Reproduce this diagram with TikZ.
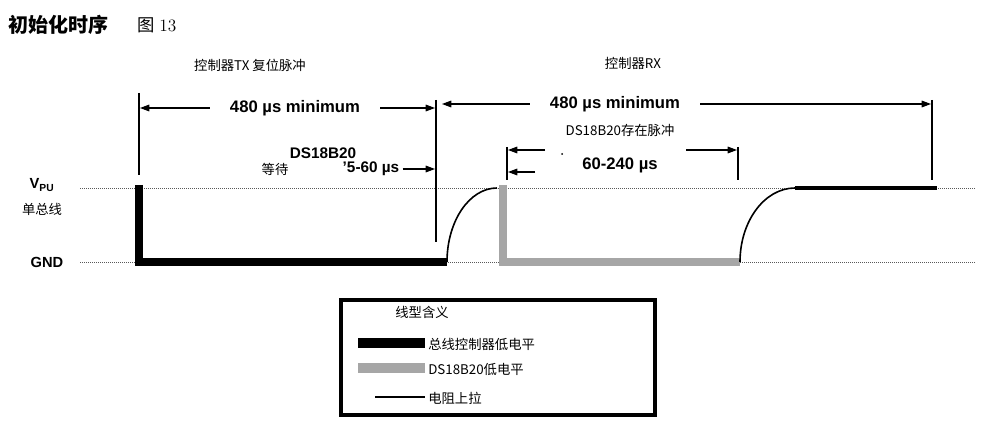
\documentclass[tikz,border=0pt]{standalone}
\usepackage{fontspec}
\setmainfont{Liberation Sans}
\newfontfamily\cjk{Noto Sans CJK SC}
\newfontfamily\lmserif{Latin Modern Roman}
\usetikzlibrary{arrows.meta}
\begin{document}
\begin{tikzpicture}[x=0.75pt,y=-0.75pt,
  dim/.style={-{Triangle[length=7pt,width=5pt]},line width=0.8pt},
  tick/.style={line width=0.8pt},
  lvl/.style={densely dotted,line width=0.5pt,gray!70!black},
  lbl/.style={inner sep=0pt,font=\bfseries\fontsize{12.5}{14}\selectfont},
  cn/.style={inner sep=0pt,font=\cjk\fontsize{10}{12}\selectfont},
  ctl/.style={line width=6pt},
  dsl/.style={line width=6pt,gray!70},
  pull/.style={line width=1.2pt}]
\useasboundingbox (0,0) rectangle (1001,428);
% title
\node[anchor=west,inner sep=0pt,font=\cjk\bfseries\fontsize{15}{17}\selectfont] (title) at (8,25) {初始化时序};
\node[anchor=west,inner sep=0pt,font=\fontsize{13}{15}\selectfont] (fig) at (137,25) {{\cjk 图} \lmserif 13};
\node[cn] (tx) at (250,65) {控制器TX 复位脉冲};
\node[cn] (rx) at (633,63) {控制器RX};
% levels
\coordinate (v0) at (80,188); \coordinate (v1) at (975,188);
\coordinate (g0) at (80,262); \coordinate (g1) at (975,262);
\draw[lvl] (v0) -- (v1);
\draw[lvl] (g0) -- (g1);
\node[inner sep=0pt,font=\bfseries\fontsize{11}{12}\selectfont] (vpu) at (42,185) {V\textsubscript{PU}};
\node[cn] (bus) at (42,209) {单总线};
\node[inner sep=0pt,font=\bfseries\fontsize{11}{12}\selectfont] (gnd) at (47,262) {GND};
% ticks
\coordinate (t1a) at (139,93); \coordinate (t1b) at (139,175);
\coordinate (t2a) at (436,100); \coordinate (t2b) at (436,242);
\coordinate (t3a) at (932,100); \coordinate (t3b) at (932,180);
\draw[tick] (t1a) -- (t1b); \draw[tick] (t2a) -- (t2b); \draw[tick] (t3a) -- (t3b);
% 480 arrows
\node[lbl] (m1) at (295,108) {480 µs minimum};
\draw[dim] (m1.west) ++(-20,0) -- (140,108);
\draw[dim] (m1.east) ++(20,0) -- (435,108);
\node[lbl] (m2) at (615,104) {480 µs minimum};
\draw[dim] (m2.west) ++(-20,0) -- (442,104);
\draw[dim] (m2.east) ++(20,0) -- (931,104);
% wait
\node[lbl,font=\bfseries\fontsize{11.5}{13}\selectfont] (ds) at (323,153) {DS18B20};
\node[cn] (wait) at (275,169) {等待};
\node[lbl,font=\bfseries\fontsize{11.5}{13}\selectfont] (w560) at (371,169) {'5-60 µs};
\draw[dim] (w560.east) ++(3,0) -- (435,169);
% presence
\node[cn] (pres) at (620,130) {DS18B20存在脉冲};
\coordinate (p1a) at (507,147); \coordinate (p1b) at (507,180);
\coordinate (p2a) at (738,147); \coordinate (p2b) at (738,180);
\draw[tick] (p1a) -- (p1b); \draw[tick] (p2a) -- (p2b);
\node[lbl] (p240) at (620,165) {60-240 µs};
\draw[dim] (545,150) -- (508,150);
\draw[dim] (535,172) -- (508,172);
\draw[dim] (686,150) -- (737,150);
\fill (562,154) circle (1);
% waveform
\draw[ctl] (139,185) -- (139,262) -- (447,262);
\draw[pull] (447,262) arc[start angle=180,end angle=270,x radius=50,y radius=74];
\draw[dsl] (503,185) -- (503,262) -- (740,262);
\draw[pull] (740,262) arc[start angle=180,end angle=270,x radius=55,y radius=74];
\draw[line width=2.5pt] (795,188) -- (937,188);
% legend
\draw[line width=2.5pt] (341,300) rectangle (655,415);
\node[cn] (lt) at (422,312) {线型含义};
\draw[line width=7pt] (358,343) -- (425,343);
\node[cn,anchor=west] (l1) at (428,344) {总线控制器低电平};
\draw[line width=7pt,gray!70] (358,368) -- (425,368);
\node[cn,anchor=west] (l2) at (428,369) {DS18B20低电平};
\draw[line width=1pt] (375,397) -- (425,397);
\node[cn,anchor=west] (l3) at (428,398) {电阻上拉};
\end{tikzpicture}
\end{document}
